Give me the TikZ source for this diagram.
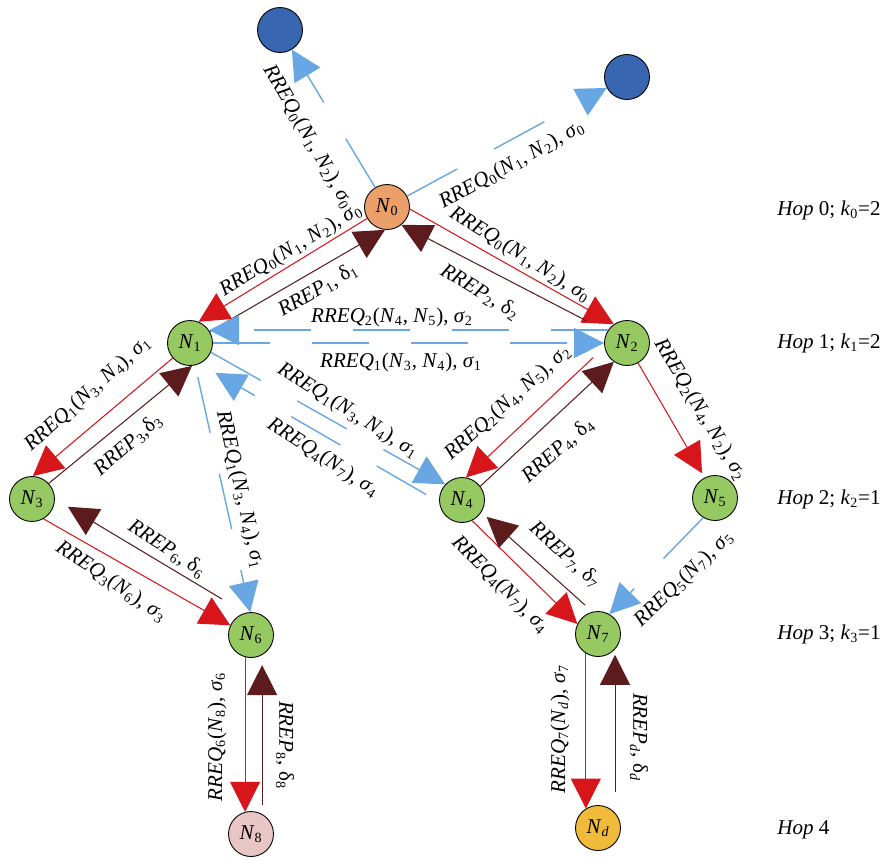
\documentclass[tikz,border=0pt]{standalone}
\usepackage{fontspec}
\setmainfont{Liberation Serif}
\usetikzlibrary{arrows.meta}

\definecolor{cred}{RGB}{215,22,28}
\definecolor{cbrown}{RGB}{92,28,30}
\definecolor{cblue}{RGB}{104,166,228}
\definecolor{cgreen}{RGB}{151,201,99}
\definecolor{corange}{RGB}{236,160,105}
\definecolor{cnavy}{RGB}{56,102,176}
\definecolor{cpink}{RGB}{232,198,198}
\definecolor{cgold}{RGB}{240,186,58}

\newcommand{\nd}[1]{\textit{N}\textsubscript{#1}}
\newcommand{\rreq}[1]{\textit{RREQ}\textsubscript{#1}}
\newcommand{\rrep}[1]{\textit{RREP}\textsubscript{#1}}
\newcommand{\sig}[1]{\textit{σ}\textsubscript{#1}}
\newcommand{\dlt}[1]{δ\textsubscript{#1}}

\begin{document}
\begin{tikzpicture}[x=0.02cm, y=-0.02cm,
  nbase/.style={circle, draw, line width=0.5pt, minimum size=0.9cm, inner sep=0pt, font=\fontsize{12}{14}\selectfont},
  nrel/.style={nbase, fill=cgreen},
  nsrc/.style={nbase, fill=corange},
  nnb/.style={nbase, fill=cnavy},
  nend/.style={nbase, fill=cpink},
  ndst/.style={nbase, fill=cgold},
  lnk/.style={line width=0.6pt, -{Triangle[length=0.6cm, width=0.6cm]}},
  req/.style={lnk, cred},
  rep/.style={lnk, cbrown},
  fwd/.style={lnk, cblue, line width=0.8pt, dash pattern=on 1.14cm off 0.84cm},
  lbl/.style={inner sep=0pt, font=\fontsize{12}{14}\selectfont}
 ]
  \useasboundingbox (0,0) rectangle (885,860);

  % nodes
  \node[nnb] (TL) at (280,30) {};
  \node[nnb] (TR) at (627,77) {};
  \node[nsrc] (N0) at (387,207) {\nd{0}};
  \foreach \n/\x/\y in {1/190/343, 2/627/343, 3/32/499, 4/462/500, 5/715/498, 6/251/635, 7/598/634}
    \node[nrel] (N\n) at (\x,\y) {\nd{\n}};
  \node[nend] (N8) at (251,834) {\nd{8}};
  \node[ndst] (Nd) at (598,828) {\nd{\textit{d}}};

  % hop levels
  \foreach \h/\y/\k in {0/210/2, 1/343/2, 2/499/1, 3/634/1}
    \node[lbl, anchor=west] (hop\h) at (777,\y) {\textit{Hop} \h; \textit{k}\textsubscript{\h}=\k};
  \node[lbl, anchor=west] (hop4) at (777,830) {\textit{Hop} 4};

  % hop 0
  \draw[fwd] (N0) -- (TL);
  \draw[fwd] (N0) -- (TR);
  \draw[req] (N0.210) -- (N1.68);
  \draw[rep] (N1.30) -- (N0.265);
  \draw[req] (N0.355) -- (N2.125);
  \draw[rep, shorten <=0.46cm] (N2.150) -- (N0.309);
  \node[lbl, rotate=-60] (lTL) at (308,137) {\rreq{0}(\nd{1}, \nd{2}), \sig{0}};
  \node[lbl, rotate=29] (lTR) at (512,165) {\rreq{0}(\nd{1}, \nd{2}), \sig{0}};
  \node[lbl, rotate=31] (l01) at (291,250) {\rreq{0}(\nd{1}, \nd{2}), \sig{0}};
  \node[lbl, rotate=30] (l10) at (318,290) {\rrep{1}, \dlt{1}};
  \node[lbl, rotate=-32] (l02) at (520,255) {\rreq{0}(\nd{1}, \nd{2}), \sig{0}};
  \node[lbl, rotate=-31] (l20) at (480,292) {\rrep{2}, \dlt{2}};

  % hop 1
  \draw[fwd] (N2.146) -- (N1.34);
  \draw[fwd] (N1.0) -- (N2.180);
  \node[lbl] (l21) at (392,317) {\rreq{2}(\nd{4}, \nd{5}), \sig{2}};
  \node[lbl] (l12) at (401,362) {\rreq{1}(\nd{3}, \nd{4}), \sig{1}};

  \draw[req] (N1.221) -- (N3.88);
  \draw[rep] (N3.43) -- (N1.275);
  \node[lbl, rotate=42] (l13) at (88,394) {\rreq{1}(\nd{3}, \nd{4}), \sig{1}};
  \node[lbl, rotate=41] (l31) at (128,445) {\rrep{3},\dlt{3}};

  \draw[fwd] (N1.336) -- (N4.137);
  \draw[fwd, shorten <=0.3cm, shorten >=0.36cm] (N4.185) -- (N1.295);
  \node[lbl, rotate=-32] (l14) at (348,411) {\rreq{1}(\nd{3}, \nd{4}), \sig{1}};
  \node[lbl, rotate=-33] (l41) at (323,458) {\rreq{4}(\nd{7}), \sig{4}};

  \draw[fwd, shorten <=0.24cm] (N1.283) -- (N6.92);
  \node[lbl, rotate=-77] (l16) at (240,490) {\rreq{1}(\nd{3}, \nd{4}), \sig{1}};

  \draw[req, shorten <=0.31cm] (N2.190) -- (N4.80);
  \draw[rep] (N4.37) -- (N2.235);
  \node[lbl, rotate=42] (l24) at (508,403) {\rreq{2}(\nd{4}, \nd{5}), \sig{2}};
  \node[lbl, rotate=41] (l42) at (558,450) {\rrep{4}, \dlt{4}};

  \draw[req, shorten >=0.1cm] (N2.299) -- (N5.117);
  \node[lbl, rotate=-59] (l25) at (700,410) {\rreq{2}(\nd{4}, \nd{2}), \sig{2}};

  % hop 2
  \draw[req] (N3.300) -- (N6.155);
  \draw[rep, shorten <=0.54cm, shorten >=0.3cm] (N6.105) -- (N3.0);
  \node[lbl, rotate=-33] (l63) at (167,549) {\rrep{6}, \dlt{6}};
  \node[lbl, rotate=-34] (l36) at (111,582) {\rreq{3}(\nd{6}), \sig{3}};

  \draw[req] (N4.296) -- (N7.154);
  \draw[rep, shorten <=0.2cm, shorten >=0.14cm] (N7.104) -- (N4.328);
  \node[lbl, rotate=-45] (l47) at (500,585) {\rreq{4}(\nd{7}), \sig{4}};
  \node[lbl, rotate=-42] (l74) at (565,555) {\rrep{7}, \dlt{7}};

  \draw[fwd] (N5.239) -- (N7.60);
  \node[lbl, rotate=44] (l57) at (684,579) {\rreq{5}(\nd{7}), \sig{5}};

  % hop 3
  \draw[req] (N6.255) -- (N8.105);
  \draw[rep, shorten <=0.18cm, shorten >=0.2cm] (N8.61) -- (N6.299);
  \node[lbl, rotate=90] (l68) at (217,737) {\rreq{6}(\nd{8}), \sig{6}};
  \node[lbl, rotate=-90] (l86) at (285,745) {\rrep{8}, \dlt{8}};

  \draw[req] (N7.238) -- (Nd.122);
  \draw[rep, shorten <=0.41cm, shorten >=0.11cm] (Nd.42) -- (N7.318);
  \node[lbl, rotate=90] (l7d) at (560,729) {\rreq{7}(\nd{\textit{d}}), \sig{7}};
  \node[lbl, rotate=-90] (ld7) at (639,737) {\rrep{\textit{d}}, \dlt{\textit{d}}};
\end{tikzpicture}
\end{document}
